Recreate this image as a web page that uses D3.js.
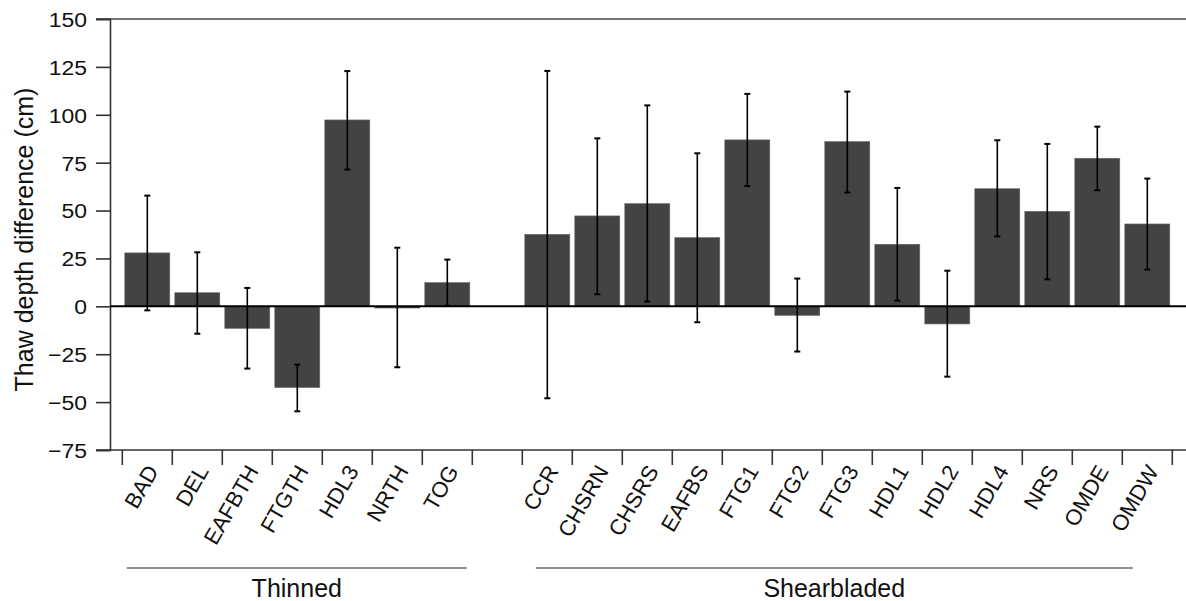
<!DOCTYPE html>
<html>
<head>
<meta charset="utf-8">
<title>Thaw depth difference</title>
<script src="https://cdn.jsdelivr.net/npm/d3@7"></script>
<style>
  html, body { margin: 0; padding: 0; background: #fff; }
  #chart { width: 1186px; height: 601px; }
  text { font-family: "Liberation Sans", Arial, Helvetica, sans-serif; }
</style>
</head>
<body>
<div id="chart"></div>
<script>
// Thaw depth difference by site, grouped by treatment (Thinned / Shearbladed)

var thinnedSites = ['BAD', 'DEL', 'EAFBTH', 'FTGTH', 'HDL3', 'NRTH', 'TOG'];
var thinnedMean  = [27.9, 7.1, -11.5, -42.4, 97.3, -0.9, 12.4];
var thinnedLow   = [-2.1, -14.3, -32.5, -54.8, 71.4, -31.8, 0.3];
var thinnedHigh  = [57.8, 28.2, 9.6, -30.4, 122.8, 30.6, 24.4];

var shearSites = ['CCR', 'CHSRN', 'CHSRS', 'EAFBS', 'FTG1', 'FTG2', 'FTG3', 'HDL1', 'HDL2', 'HDL4', 'NRS', 'OMDE', 'OMDW'];
var shearMean  = [37.6, 47.2, 53.6, 35.9, 86.9, -4.7, 86.0, 32.4, -9.2, 61.4, 49.6, 77.3, 43.0];
var shearLow   = [-48.0, 6.3, 2.5, -8.3, 62.8, -23.6, 59.4, 3.0, -36.7, 36.5, 14.1, 60.6, 19.2];
var shearHigh  = [122.9, 87.7, 104.9, 79.9, 110.9, 14.5, 112.1, 61.8, 18.6, 86.7, 84.8, 93.8, 66.7];

var yTicks = [-75, -50, -25, 0, 25, 50, 75, 100, 125, 150];
var groupNames = ['Thinned', 'Shearbladed'];

document.addEventListener('DOMContentLoaded', function () {
  drawChart();
});

function drawChart() {
  var el = document.getElementById('chart');
  var width = 1186;
  var height = 601;
  var margin = { top: 19, right: 0, bottom: 151, left: 110 };
  var gap = '__gap__';

  var rows = [];
  thinnedSites.forEach(function (s, i) {
    rows.push({ site: s, mean: thinnedMean[i], low: thinnedLow[i], high: thinnedHigh[i] });
  });
  shearSites.forEach(function (s, i) {
    rows.push({ site: s, mean: shearMean[i], low: shearLow[i], high: shearHigh[i] });
  });
  var domain = thinnedSites.concat([gap], shearSites);

  var svg = d3.select(el).append('svg')
    .attr('width', width)
    .attr('height', height)
    .attr('viewBox', '0 0 ' + width + ' ' + height);

  var x = d3.scaleBand().domain(domain).range([122.3, 1172.3]).paddingInner(0.1).paddingOuter(0.05);
  var y = d3.scaleLinear().domain([-75, 150]).range([height - margin.bottom, margin.top]);
  var step = x.step();
  var x0 = x.range()[0];

  // top border line
  svg.append('line')
    .attr('x1', 96).attr('x2', width)
    .attr('y1', y(150)).attr('y2', y(150))
    .attr('stroke', '#444').attr('stroke-width', 1.6);

  // y axis
  svg.append('g')
    .attr('transform', 'translate(' + margin.left + ',0)')
    .call(d3.axisLeft(y).tickValues(yTicks).tickSize(14).tickPadding(8).tickFormat(function (d) { return d < 0 ? '\u2212' + Math.abs(d) : d; }))
    .call(function (g) { g.select('.domain').attr('stroke', '#333').attr('stroke-width', 1.6); })
    .call(function (g) { g.selectAll('.tick line').attr('stroke', '#333').attr('stroke-width', 1.6); })
    .call(function (g) {
      g.selectAll('.tick text')
        .attr('font-size', 20.5)
        .attr('fill', '#111')
        .attr('font-family', '"Liberation Sans", Arial, sans-serif')
        .attr('transform', 'translate(-14,0) scale(1.12,1)')
        .attr('x', -8)
        .attr('dy', '0.36em');
    });

  // bottom axis line
  svg.append('line')
    .attr('x1', 96).attr('x2', width)
    .attr('y1', y(-75)).attr('y2', y(-75))
    .attr('stroke', '#333').attr('stroke-width', 1.6);

  // category boundary ticks
  svg.selectAll('.cat-tick')
    .data(d3.range(domain.length + 1))
    .join('line')
    .attr('class', 'cat-tick')
    .attr('x1', function (i) { return x0 + i * step; })
    .attr('x2', function (i) { return x0 + i * step; })
    .attr('y1', y(-75)).attr('y2', y(-75) + 15)
    .attr('stroke', '#333').attr('stroke-width', 1.6);

  // bars
  svg.selectAll('.bar')
    .data(rows)
    .join('rect')
    .attr('class', 'bar')
    .attr('x', function (d) { return x(d.site); })
    .attr('width', x.bandwidth())
    .attr('y', function (d) { return y(Math.max(0, d.mean)); })
    .attr('height', function (d) { return Math.abs(y(d.mean) - y(0)); })
    .attr('fill', '#434343')
    .attr('stroke', '#6a6a6a')
    .attr('stroke-width', 0.6);

  // zero line
  svg.append('line')
    .attr('x1', margin.left).attr('x2', width)
    .attr('y1', y(0)).attr('y2', y(0))
    .attr('stroke', '#000').attr('stroke-width', 2);

  // error bars
  var eb = svg.selectAll('.err')
    .data(rows)
    .join('g')
    .attr('class', 'err')
    .attr('transform', function (d) { return 'translate(' + (x(d.site) + x.bandwidth() / 2) + ',0)'; });
  eb.append('line')
    .attr('y1', function (d) { return y(d.low); })
    .attr('y2', function (d) { return y(d.high); })
    .attr('stroke', '#000').attr('stroke-width', 1.6);
  eb.append('line')
    .attr('x1', -3).attr('x2', 3)
    .attr('y1', function (d) { return y(d.low); })
    .attr('y2', function (d) { return y(d.low); })
    .attr('stroke', '#000').attr('stroke-width', 2);
  eb.append('line')
    .attr('x1', -3).attr('x2', 3)
    .attr('y1', function (d) { return y(d.high); })
    .attr('y2', function (d) { return y(d.high); })
    .attr('stroke', '#000').attr('stroke-width', 2);

  // rotated site labels
  svg.selectAll('.site-lbl')
    .data(rows)
    .join('text')
    .attr('class', 'site-lbl')
    .attr('transform', function (d) {
      return 'translate(' + (x(d.site) + x.bandwidth() / 2 + 12) + ',' + (y(-75) + 21) + ') rotate(-60)';
    })
    .attr('text-anchor', 'end')
    .attr('font-size', 22)
    .attr('fill', '#111')
    .text(function (d) { return d.site; });

  // group brackets
  var groups = [
    { name: groupNames[0], x1: x(thinnedSites[0]) + 2, x2: x(thinnedSites[thinnedSites.length - 1]) + x.bandwidth() - 3 },
    { name: groupNames[1], x1: x(shearSites[0]) + 11, x2: x(shearSites[shearSites.length - 1]) + x.bandwidth() - 37 }
  ];
  var gy = y(-75) + 118;
  groups.forEach(function (g) {
    svg.append('line')
      .attr('x1', g.x1).attr('x2', g.x2)
      .attr('y1', gy).attr('y2', gy)
      .attr('stroke', '#222').attr('stroke-width', 1.2);
    svg.append('text')
      .attr('x', (g.x1 + g.x2) / 2)
      .attr('y', gy + 29)
      .attr('text-anchor', 'middle')
      .attr('font-size', 25)
      .attr('fill', '#111')
      .text(g.name);
  });

  // y axis title
  svg.append('text')
    .attr('transform', 'translate(33,' + ((y(150) + y(-75)) / 2 + 5) + ') rotate(-90)')
    .attr('text-anchor', 'middle')
    .attr('font-size', 25)
    .attr('fill', '#111')
    .text('Thaw depth difference (cm)');
}
</script>
</body>
</html>
